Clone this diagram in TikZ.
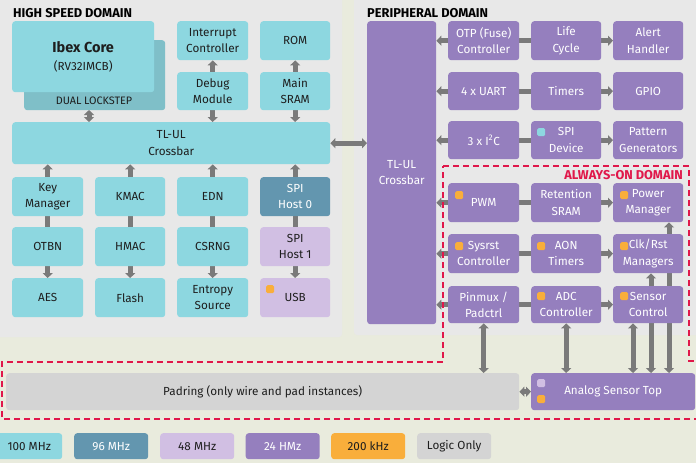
\documentclass[tikz,border=0pt]{standalone}
\usepackage{fontspec}
\setmainfont{Fira Sans}
\usetikzlibrary{arrows.meta}
\definecolor{bgc}{HTML}{E9EBDD}
\definecolor{panelc}{HTML}{E8E8E8}
\definecolor{cyanc}{HTML}{8DD7E0}
\definecolor{tealc}{HTML}{6396AF}
\definecolor{lockc}{HTML}{7FBFC8}
\definecolor{lavc}{HTML}{D1BFE3}
\definecolor{purc}{HTML}{957FBE}
\definecolor{orc}{HTML}{F9AE3B}
\definecolor{grayc}{HTML}{D4D4D4}
\definecolor{arrc}{HTML}{7A7A7A}
\definecolor{redc}{HTML}{E0174A}
\definecolor{txtc}{HTML}{1E1E1E}
\pgfdeclarelayer{panels}
\pgfdeclarelayer{edges}
\pgfsetlayers{panels,edges,main}
\tikzset{
  blk/.style={rounded corners=3pt, inner sep=0pt, align=center, anchor=north west,
    font=\fontsize{11.7}{16.5}\selectfont},
  hs/.style={blk, fill=cyanc, text=txtc},
  hsa/.style={blk, fill=tealc, text=white},
  hsb/.style={blk, fill=lavc, text=txtc},
  pd/.style={blk, fill=purc, text=white},
  lo/.style={blk, fill=grayc, text=txtc},
  sz/.style={minimum width=71pt, minimum height=39pt},
  szb/.style={minimum width=71pt, minimum height=38pt},
  sq/.style={rounded corners=1.5pt, inner sep=0pt, minimum size=8pt, anchor=north west},
  leg/.style={blk, minimum width=74pt, minimum height=26pt},
  ttl/.style={anchor=west, inner sep=0pt, font=\fontsize{12.8}{14}\selectfont\bfseries},
  conn/.style={draw=arrc, line width=5pt},
  ar/.style={conn, -{Triangle[width=10pt,length=5pt]}},
  dbl/.style={conn, {Triangle[width=10pt,length=5pt]}-{Triangle[width=10pt,length=5pt]}},
  aon/.style={draw=redc, line width=2pt, dash pattern=on 6pt off 4pt},
}
\begin{document}
\begin{tikzpicture}[x=1pt,y=-1pt]
\useasboundingbox (0,0) rectangle (696,463);
\begin{pgfonlayer}{panels}
  \fill[bgc] (0,0) rectangle (696,463);
  \fill[panelc, rounded corners=3pt] (-4,-4) rectangle (342,337);
  \fill[panelc, rounded corners=3pt] (354,-4) rectangle (700,335);
\end{pgfonlayer}

% titles
\node[ttl] (t1) at (13,13) {HIGH SPEED DOMAIN};
\node[ttl] (t2) at (367,13) {PERIPHERAL DOMAIN};

% high speed domain
\node[blk, fill=lockc, minimum width=141pt, minimum height=70pt] (lock) at (24,40) {};
\node[inner sep=0pt, text=txtc, font=\fontsize{10.8}{12}\selectfont] (lockt) at (94,101) {DUAL LOCKSTEP};
\node[hs, minimum width=142pt, minimum height=71pt, font=\fontsize{11.7}{18}\selectfont] (ibex) at (12,21)
  {{\fontsize{14.5}{17}\selectfont\bfseries Ibex Core}\\(RV32IMCB)};
\node[hs, sz] (intc) at (177,21) {Interrupt\\Controller};
\node[hs, sz, minimum width=70pt] (rom) at (260,21) {ROM};
\node[hs, szb] (dbg) at (177,72) {Debug\\Module};
\node[hs, szb, minimum width=70pt] (sram) at (260,72) {Main\\SRAM};
\node[hs, minimum width=318pt, minimum height=42pt] (xbar) at (12,122) {TL-UL\\Crossbar};

\node[hs, sz] (keymgr) at (12,177) {Key\\Manager};
\node[hs, sz, minimum width=70pt] (kmac) at (95,177) {KMAC};
\node[hs, sz] (edn) at (177,177) {EDN};
\node[hsa, sz, minimum width=70pt] (spih0) at (260,177) {SPI\\Host 0};

\node[hs, sz] (otbn) at (12,227) {OTBN};
\node[hs, sz, minimum width=70pt] (hmac) at (95,227) {HMAC};
\node[hs, sz] (csrng) at (177,227) {CSRNG};
\node[hsb, sz, minimum width=70pt] (spih1) at (260,227) {SPI\\Host 1};

\node[hs, sz] (aes) at (12,278) {AES};
\node[hs, sz, minimum width=70pt] (flash) at (95,278) {Flash};
\node[hs, sz] (entropy) at (177,278) {Entropy\\Source};
\node[hsb, sz, minimum width=70pt] (usb) at (260,278) {USB};
\node[sq, fill=orc] (usbsq) at (266,285) {};

% peripheral domain
\node[pd, minimum width=69pt, minimum height=303pt] (pxbar) at (367,21) {TL-UL\\Crossbar};

\node[pd, sz] (otp) at (448,21) {OTP (Fuse)\\Controller};
\node[pd, sz, minimum width=70pt] (lc) at (531,21) {Life\\Cycle};
\node[pd, sz, minimum width=70pt] (alert) at (613,21) {Alert\\Handler};

\node[pd, szb] (uart) at (448,72) {4 x UART};
\node[pd, szb, minimum width=70pt] (timers) at (531,72) {Timers};
\node[pd, szb, minimum width=70pt] (gpio) at (613,72) {GPIO};

\node[pd, szb] (i2c) at (448,121) {3 x I\textsuperscript{2}C};
\node[pd, szb, minimum width=70pt] (spidev) at (531,121) {SPI\\Device};
\node[pd, szb, minimum width=70pt] (pattern) at (613,121) {Pattern\\Generators};
\node[sq, fill=cyanc] (spidevsq) at (537,128) {};

% always-on
\node[anchor=east, inner sep=0pt, text=redc, font=\fontsize{12.8}{14}\selectfont\bfseries] (aont) at (683,175) {ALWAYS-ON DOMAIN};

\node[pd, sz] (pwm) at (448,183) {PWM};
\node[pd, sz, minimum width=70pt] (ret) at (531,183) {Retention\\SRAM};
\node[pd, sz, minimum width=70pt] (pwr) at (613,183) {Power\\Manager};

\node[pd, sz] (sysrst) at (448,234) {Sysrst\\Controller};
\node[pd, sz, minimum width=70pt] (aontim) at (531,234) {AON\\Timers};
\node[pd, sz, minimum width=70pt] (clkrst) at (613,234) {Clk/Rst\\Managers};

\node[pd, szb, minimum height=37pt] (pinmux) at (448,286) {Pinmux /\\Padctrl};
\node[pd, szb, minimum height=37pt, minimum width=70pt] (adc) at (531,286) {ADC\\Controller};
\node[pd, szb, minimum height=37pt, minimum width=70pt] (sensor) at (613,286) {Sensor\\Control};

\node[sq, fill=orc] (pwmsq) at (455,191) {};
\node[sq, fill=orc] (pwrsq) at (620,191) {};
\node[sq, fill=orc] (sysrstsq) at (455,242) {};
\node[sq, fill=orc] (aontimsq) at (537,242) {};
\node[sq, fill=orc] (clkrstsq) at (620,242) {};
\node[sq, fill=orc] (adcsq) at (537,292) {};
\node[sq, fill=orc] (sensorsq) at (620,292) {};

% bottom
\node[lo, minimum width=513pt, minimum height=37pt] (padring) at (6,373) {Padring (only wire and pad instances)};
\node[pd, minimum width=164pt, minimum height=37pt] (analog) at (531,373) {Analog Sensor Top};
\node[sq, fill=lavc] (analogsq1) at (537,379) {};
\node[sq, fill=orc] (analogsq2) at (537,395) {};

% always-on boundary
\draw[aon] (443,166) -- (689,166) -- (689,361) -- (700,361);
\draw[aon] (700,419) -- (2,419) -- (2,362) -- (443,362) -- (443,166);

% legend
\node[leg, fill=cyanc, text=txtc] (l1) at (-12,433) {\hspace*{8pt}100 MHz};
\node[leg, fill=tealc, text=white] (l2) at (74,433) {96 MHz};
\node[leg, fill=lavc, text=txtc] (l3) at (160,433) {48 MHz};
\node[leg, fill=purc, text=white] (l4) at (245.5,433) {24 HMz};
\node[leg, fill=orc, text=txtc] (l5) at (331,433) {200 kHz};
\node[leg, fill=grayc, text=txtc] (l6) at (417,433) {Logic Only};

% connectors
\coordinate (lk) at (89,110);
\coordinate (vA) at (633,0);
\coordinate (vB) at (651,0);
\coordinate (vC) at (669,0);
\begin{pgfonlayer}{edges}
  \draw[dbl] (lk) -- (lk |- xbar.north);
  \draw[ar] (dbg.south) -- (dbg.south |- xbar.north);
  \draw[ar] (sram.south) -- (sram.south |- xbar.north);
  \draw[ar] (dbg.north) -- (intc.south);
  \draw[ar] (sram.north) -- (rom.south);
  \foreach \a/\b/\c in {keymgr/otbn/aes, kmac/hmac/flash, edn/csrng/entropy, spih0/spih1/usb}{
    \draw[ar] (\a.north) -- (\a.north |- xbar.south);
    \draw[conn] (\a.south) -- (\b.north);
    \draw[ar] (\b.south) -- (\c.north);
  }
  \draw[dbl] (xbar.east) -- (xbar.east -| pxbar.west);
  \foreach \a/\b/\c in {otp/lc/alert, uart/timers/gpio, i2c/spidev/pattern, pwm/ret/pwr, sysrst/aontim/clkrst, pinmux/adc/sensor}{
    \draw[ar] (\a.west) -- (\a.west -| pxbar.east);
    \draw[conn] (\a.east) -- (\b.west);
    \draw[ar] (\b.east) -- (\c.west);
  }
  \draw[dbl] (pinmux.south) -- (pinmux.south |- padring.north);
  \draw[dbl] (adc.south) -- (adc.south |- analog.north);
  \draw[dbl] (sensor.south -| vA) -- (analog.north -| vA);
  \draw[dbl] (clkrst.south -| vB) -- (analog.north -| vB);
  \draw[dbl] (pwr.south -| vC) -- (analog.north -| vC);
  \draw[dbl] (padring.east) -- (analog.west);
\end{pgfonlayer}
\end{tikzpicture}
\end{document}
